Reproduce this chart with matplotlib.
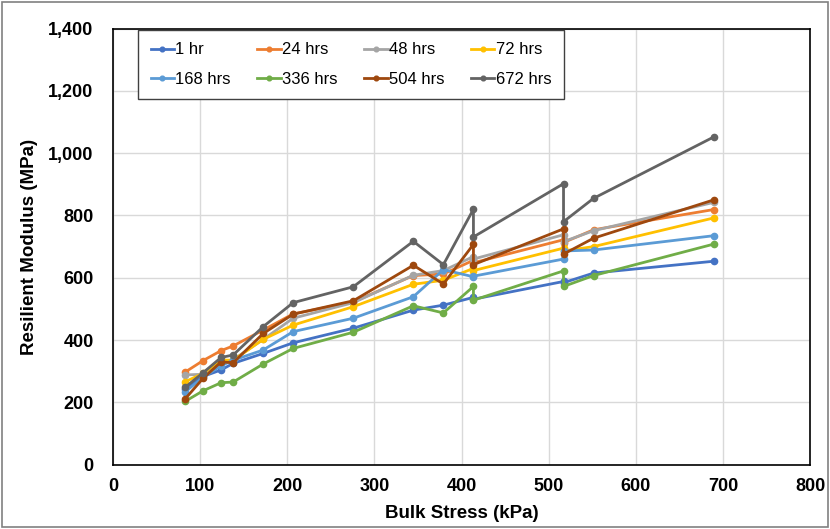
import matplotlib
matplotlib.use("Agg")
import matplotlib.pyplot as plt
from matplotlib.ticker import FuncFormatter, MultipleLocator
from matplotlib.patches import Rectangle

# ---- data ----
bulk_stress = [82.8, 103.4, 124.1, 137.9, 172.4, 206.8, 275.8, 344.7, 379.2,
               413.7, 413.7, 517.1, 517.1, 551.6, 689.5]

hr1 = [243, 283, 304, 325, 357, 391, 438, 496, 512, 537, 531, 588, 584, 615, 653]
hr24 = [297, 334, 366, 381, 432, 484, 522, 607, 612, 656, 648, 722, 713, 754, 819]
hr48 = [288, 290, 330, 337, 402, 470, 520, 608, 623, 668, 660, 738, 716, 751, 842]
hr72 = [266, 293, 336, 335, 402, 448, 507, 579, 592, 630, 623, 695, 686, 700, 792]
hr168 = [234, 280, 318, 335, 368, 427, 470, 539, 626, 603, 605, 660, 686, 689, 735]
hr336 = [203, 237, 263, 265, 323, 373, 425, 510, 487, 572, 528, 622, 572, 607, 708]
hr504 = [211, 277, 330, 327, 421, 483, 526, 640, 580, 707, 642, 757, 676, 727, 850]
hr672 = [248, 295, 344, 352, 443, 520, 571, 717, 642, 820, 731, 902, 780, 855, 1052]

series_labels = ["1 hr", "24 hrs", "48 hrs", "72 hrs",
                 "168 hrs", "336 hrs", "504 hrs", "672 hrs"]
series_values = [hr1, hr24, hr48, hr72, hr168, hr336, hr504, hr672]
series_colors = ["#4472C4", "#ED7D31", "#A5A5A5", "#FFC000",
                 "#5B9BD5", "#70AD47", "#9E480E", "#636363"]

plt.rcParams['font.family'] = ['Liberation Sans', 'DejaVu Sans']

fig = plt.figure(figsize=(8.3, 5.29), dpi=100)
ax = fig.add_axes([113/830, 1 - 464.6/529, 697/830, 436/529])

handles = []
for lab, vals, col in zip(series_labels, series_values, series_colors):
    h, = ax.plot(bulk_stress, vals, color=col, lw=2.0, marker='o', ms=4.5,
                 label=lab, solid_joinstyle='round')
    handles.append(h)

ax.set_xlim(0, 800)
ax.set_ylim(0, 1400)
ax.xaxis.set_major_locator(MultipleLocator(100))
ax.yaxis.set_major_locator(MultipleLocator(200))
ax.yaxis.set_major_formatter(FuncFormatter(lambda v, p: f"{int(v):,}"))
ax.grid(True, color='#D9D9D9', lw=1)
ax.set_axisbelow(True)
for s in ax.spines.values():
    s.set_color('black')
    s.set_linewidth(1.2)
ax.tick_params(axis='x', length=0, pad=10, labelsize=13)
ax.tick_params(axis='y', length=0, pad=14, labelsize=13)
for t in ax.get_xticklabels() + ax.get_yticklabels():
    t.set_fontweight('bold')

ax.set_xlabel("Bulk Stress (kPa)", fontsize=13.5, fontweight='bold', labelpad=7)
ax.set_ylabel("Resilient Modulus (MPa)", fontsize=13.5, fontweight='bold', labelpad=7)

# row-wise legend order (Excel style) for a 4-column, 2-row layout
ncol = 4
nrow = 2
order = [r * ncol + c for c in range(ncol) for r in range(nrow)]
leg = ax.legend([handles[i] for i in order], [series_labels[i] for i in order],
                ncol=ncol, loc='upper left', bbox_to_anchor=(0.036, 0.997),
                borderaxespad=0, fontsize=12, frameon=True, fancybox=False,
                edgecolor='#404040', framealpha=1, handlelength=1.4,
                handletextpad=0.08, columnspacing=1.6, borderpad=0.75,
                labelspacing=0.85, markerscale=0.75)
leg.get_frame().set_linewidth(1.0)

fig.patches.append(Rectangle((0.002, 0.003), 0.995, 0.994, transform=fig.transFigure,
                             fill=False, edgecolor='#808080', lw=1.2))

fig.savefig("out.png", dpi=100)
